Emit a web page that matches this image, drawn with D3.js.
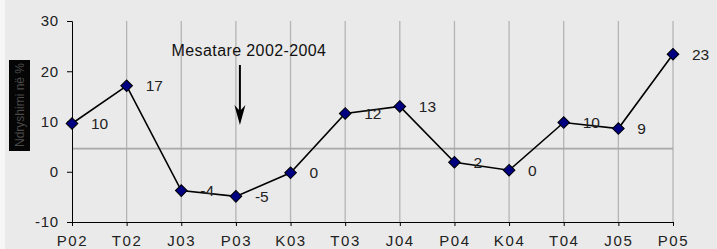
<!DOCTYPE html>
<html>
<head>
<meta charset="utf-8">
<script src="https://cdn.jsdelivr.net/npm/d3@7"></script>
<style>
  body { margin: 0; background: #eaeaea; }
  svg { display: block; font-family: "Liberation Sans", Arial, sans-serif; }
</style>
</head>
<body>
<div id="chart"></div>
<script>
var categories = ["P02", "T02", "J03", "P03", "K03", "T03", "J04", "P04", "K04", "T04", "J05", "P05"];
var values = [9.6, 17.1, -3.75, -4.9, -0.2, 11.6, 13.0, 1.9, 0.3, 9.8, 8.6, 23.4];
var average = 4.6;
var yTicks = [-10, 0, 10, 20, 30];
var axisTitle = "Ndryshimi në %";
var noteText = "Mesatare 2002-2004";

var width = 717, height = 249;

var svg = d3.select("#chart")
    .append("svg")
    .attr("width", width)
    .attr("height", height);

svg.append("rect").attr("width", width).attr("height", height).attr("fill", "#eaeaea");
svg.append("rect").attr("width", 5).attr("height", height).attr("fill", "#f6f6f6");

var x = d3.scalePoint()
    .domain(categories)
    .range([72, 673]);

var y = d3.scaleLinear()
    .domain([-10, 30])
    .range([222, 21]);

// vertical gridlines
svg.append("g")
    .selectAll("line")
    .data(categories.slice(1))
    .enter().append("line")
    .attr("x1", function (d) { return x(d); })
    .attr("x2", function (d) { return x(d); })
    .attr("y1", y(30))
    .attr("y2", y(-10))
    .attr("stroke", "#b4b4b4")
    .attr("stroke-width", 1.3);

// average line
svg.append("line")
    .attr("x1", x(categories[0]))
    .attr("x2", x(categories[categories.length - 1]))
    .attr("y1", y(average))
    .attr("y2", y(average))
    .attr("stroke", "#a8a8a8")
    .attr("stroke-width", 1.6);

// y axis
var yAxis = svg.append("g")
    .attr("transform", "translate(" + x(categories[0]) + ",0)")
    .call(d3.axisLeft(y).tickValues(yTicks).tickSize(5).tickPadding(8)
        .tickFormat(function (d) { return String(d); }));
yAxis.select(".domain").attr("stroke", "#000");
yAxis.selectAll("line").attr("stroke", "#000");
yAxis.selectAll("text").attr("font-size", 15).attr("fill", "#222")
    .attr("letter-spacing", 0.8)
    .attr("font-family", "Liberation Sans, Arial, sans-serif");

// x axis
var xAxis = svg.append("g")
    .attr("transform", "translate(0," + y(-10) + ")")
    .call(d3.axisBottom(x).tickSize(4).tickPadding(9).tickSizeOuter(0));
xAxis.select(".domain").attr("stroke", "#000").attr("d", "M" + x(categories[0]) + ",0.5H" + x(categories[categories.length - 1]));
xAxis.selectAll("line").attr("stroke", "#000");
xAxis.selectAll("text").attr("font-size", 15).attr("fill", "#222")
    .attr("letter-spacing", 1.6)
    .attr("font-family", "Liberation Sans, Arial, sans-serif");

// series line
var line = d3.line()
    .x(function (d, i) { return x(categories[i]); })
    .y(function (d) { return y(d); });

svg.append("path")
    .datum(values)
    .attr("d", line)
    .attr("fill", "none")
    .attr("stroke", "#000")
    .attr("stroke-width", 1.6);

// markers
svg.append("g")
    .selectAll("path")
    .data(values)
    .enter().append("path")
    .attr("d", d3.symbol().type(d3.symbolSquare).size(68))
    .attr("transform", function (d, i) {
        return "translate(" + x(categories[i]) + "," + y(d) + ") rotate(45)";
    })
    .attr("fill", "#000080")
    .attr("stroke", "#000")
    .attr("stroke-width", 1);

// value labels
svg.append("g")
    .selectAll("text")
    .data(values)
    .enter().append("text")
    .attr("x", function (d, i) { return x(categories[i]) + 19; })
    .attr("y", function (d) { return y(d) + 5.5; })
    .attr("font-size", 15.5)
    .attr("fill", "#222")
    .text(function (d) { return String(Math.round(d) || 0); });

// annotation
var ax = x("P03") + 4;
svg.append("text")
    .attr("x", 249)
    .attr("y", 56)
    .attr("text-anchor", "middle")
    .attr("font-size", 16)
    .attr("letter-spacing", 0.4)
    .attr("fill", "#111")
    .text(noteText);

svg.append("line")
    .attr("x1", ax).attr("x2", ax)
    .attr("y1", 65).attr("y2", 112)
    .attr("stroke", "#000")
    .attr("stroke-width", 2);

svg.append("path")
    .attr("d", "M" + ax + ",125 L" + (ax - 5.5) + ",105 L" + ax + ",111 L" + (ax + 5.5) + ",105 Z")
    .attr("fill", "#000");

// axis title box
svg.append("rect")
    .attr("x", 9).attr("y", 60)
    .attr("width", 21).attr("height", 91)
    .attr("fill", "#050505");

svg.append("text")
    .attr("transform", "translate(24,105) rotate(-90)")
    .attr("text-anchor", "middle")
    .attr("font-size", 12)
    .attr("fill", "#4a4a4a")
    .text(axisTitle);
</script>
</body>
</html>
